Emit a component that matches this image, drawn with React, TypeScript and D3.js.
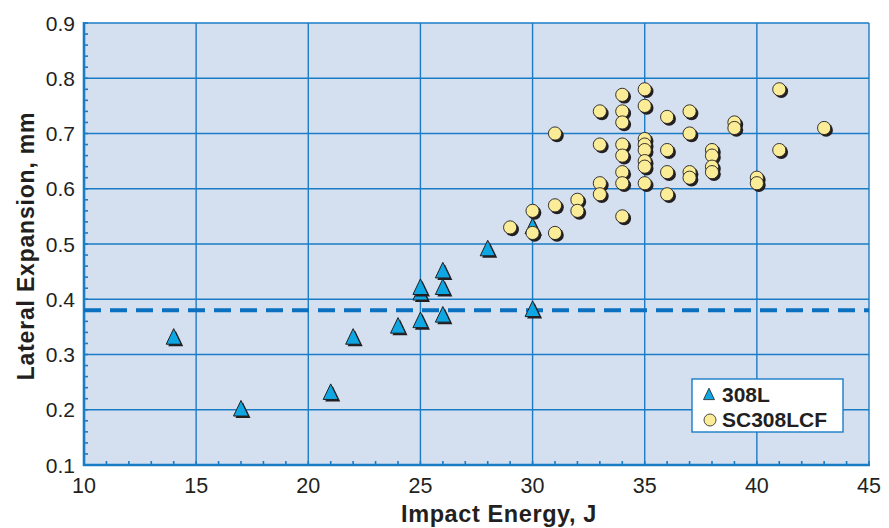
import React from "react";
import * as d3 from "d3";

const xTicks = [10, 15, 20, 25, 30, 35, 40, 45];
const yTicks = [0.1, 0.2, 0.3, 0.4, 0.5, 0.6, 0.7, 0.8, 0.9];
const thresholdY = 0.38;

const l308X = [14, 17, 21, 22, 24, 25, 25, 25, 26, 26, 26, 28, 30, 30];
const l308Y = [0.33, 0.2, 0.23, 0.33, 0.35, 0.36, 0.41, 0.42, 0.37, 0.42, 0.45, 0.49, 0.38, 0.53];

const scX = [
  29, 30, 30, 31, 31, 31, 32, 32,
  33, 33, 33, 33,
  34, 34, 34, 34, 34, 34, 34, 34,
  35, 35, 35, 35, 35, 35, 35, 35,
  36, 36, 36, 36,
  37, 37, 37, 37,
  38, 38, 38, 38,
  39, 39, 40, 40, 41, 41, 43,
];
const scY = [
  0.53, 0.56, 0.52, 0.7, 0.57, 0.52, 0.58, 0.56,
  0.74, 0.68, 0.61, 0.59,
  0.77, 0.74, 0.72, 0.68, 0.66, 0.63, 0.61, 0.55,
  0.78, 0.75, 0.69, 0.68, 0.67, 0.65, 0.64, 0.61,
  0.73, 0.67, 0.63, 0.59,
  0.74, 0.7, 0.63, 0.62,
  0.67, 0.66, 0.64, 0.63,
  0.72, 0.71, 0.62, 0.61, 0.78, 0.67, 0.71,
];

const W = 889;
const H = 528;
const left = 84, right = 869, top = 23, bottom = 465;

export default function App() {
  const x = d3.scaleLinear().domain([10, 45]).range([left, right]);
  const y = d3.scaleLinear().domain([0.1, 0.9]).range([bottom, top]);
  const grid = "#1b7cc6";
  const font = "'Liberation Sans', Arial, Helvetica, sans-serif";
  const minorX = d3.range(10, 46, 1);
  const minorY = d3.range(0, 41).map((i) => 0.1 + i * 0.02);
  const triPath = (cx: number, cy: number, s: number) =>
    `M${cx},${cy - s * 0.62}L${cx + s * 0.5},${cy + s * 0.42}L${cx - s * 0.5},${cy + s * 0.42}Z`;

  return (
    <svg width={W} height={H} style={{ position: "absolute", left: 0, top: 0 }} fontFamily={font}>
      <rect x={0} y={0} width={W} height={H} fill="#ffffff" />
      <rect x={left} y={top} width={right - left} height={bottom - top} fill="#d4dff0" />
      {xTicks.map((t) => (
        <line key={"gx" + t} x1={x(t)} x2={x(t)} y1={top} y2={bottom} stroke={grid} strokeWidth={1.4} />
      ))}
      {yTicks.map((t) => (
        <line key={"gy" + t} x1={left} x2={right} y1={y(t)} y2={y(t)} stroke={grid} strokeWidth={1.4} />
      ))}
      {minorX.map((t) => (
        <line key={"mx" + t} x1={x(t)} x2={x(t)} y1={bottom} y2={bottom - 4} stroke={grid} strokeWidth={1.6} />
      ))}
      {minorY.map((t, i) => (
        <line key={"my" + i} x1={left} x2={left + 4} y1={y(t)} y2={y(t)} stroke={grid} strokeWidth={1.6} />
      ))}
      <line x1={left} x2={left} y1={top - 1} y2={bottom + 1} stroke={grid} strokeWidth={2.6} />
      <line x1={left - 1} x2={right + 1} y1={bottom} y2={bottom} stroke={grid} strokeWidth={2.6} />
      <line x1={left} x2={right} y1={y(thresholdY)} y2={y(thresholdY)} stroke="#0a70bf" strokeWidth={4} strokeDasharray="17,9" />
      {yTicks.map((t) => (
        <text key={"ty" + t} x={left - 9} y={y(t) + 7.5} textAnchor="end" fontSize={21} fill="#231f20">
          {t.toFixed(1)}
        </text>
      ))}
      {xTicks.map((t) => (
        <text key={"tx" + t} x={x(t)} y={493} textAnchor="middle" fontSize={21.5} fill="#231f20">
          {t}
        </text>
      ))}
      <text x={499} y={522} textAnchor="middle" fontSize={23.5} fontWeight="bold" letterSpacing={0.6} fill="#231f20">
        Impact Energy, J
      </text>
      <text transform={`translate(34,${(top + bottom) / 2 + 2}) rotate(-90)`} textAnchor="middle" fontSize={23} fontWeight="bold" letterSpacing={0.8} fill="#231f20">
        Lateral Expansion, mm
      </text>
      {l308X.map((v, i) => (
        <g key={"t" + i}>
          <path d={triPath(x(v) + 2, y(l308Y[i]) + 2, 15)} fill="#231f20" />
          <path d={triPath(x(v), y(l308Y[i]), 15)} fill="#0ea6e3" stroke="#231f20" strokeWidth={1} />
        </g>
      ))}
      {scX.map((v, i) => (
        <g key={"c" + i}>
          <circle cx={x(v) + 2} cy={y(scY[i]) + 2} r={6.8} fill="#231f20" />
          <circle cx={x(v)} cy={y(scY[i])} r={6.6} fill="#fbec98" stroke="#231f20" strokeWidth={0.9} />
        </g>
      ))}
      <rect x={692} y={379} width={151} height={53} fill="#ffffff" stroke={grid} strokeWidth={1.4} />
      <path d={triPath(709, 395, 11)} fill="#0ea6e3" stroke="#231f20" strokeWidth={0.8} />
      <text x={722} y={402} fontSize={21} fontWeight="bold" fill="#231f20">308L</text>
      <circle cx={710} cy={420} r={6} fill="#fbec98" stroke="#231f20" strokeWidth={0.8} />
      <text x={722} y={427} fontSize={21} fontWeight="bold" fill="#231f20">SC308LCF</text>
    </svg>
  );
}
